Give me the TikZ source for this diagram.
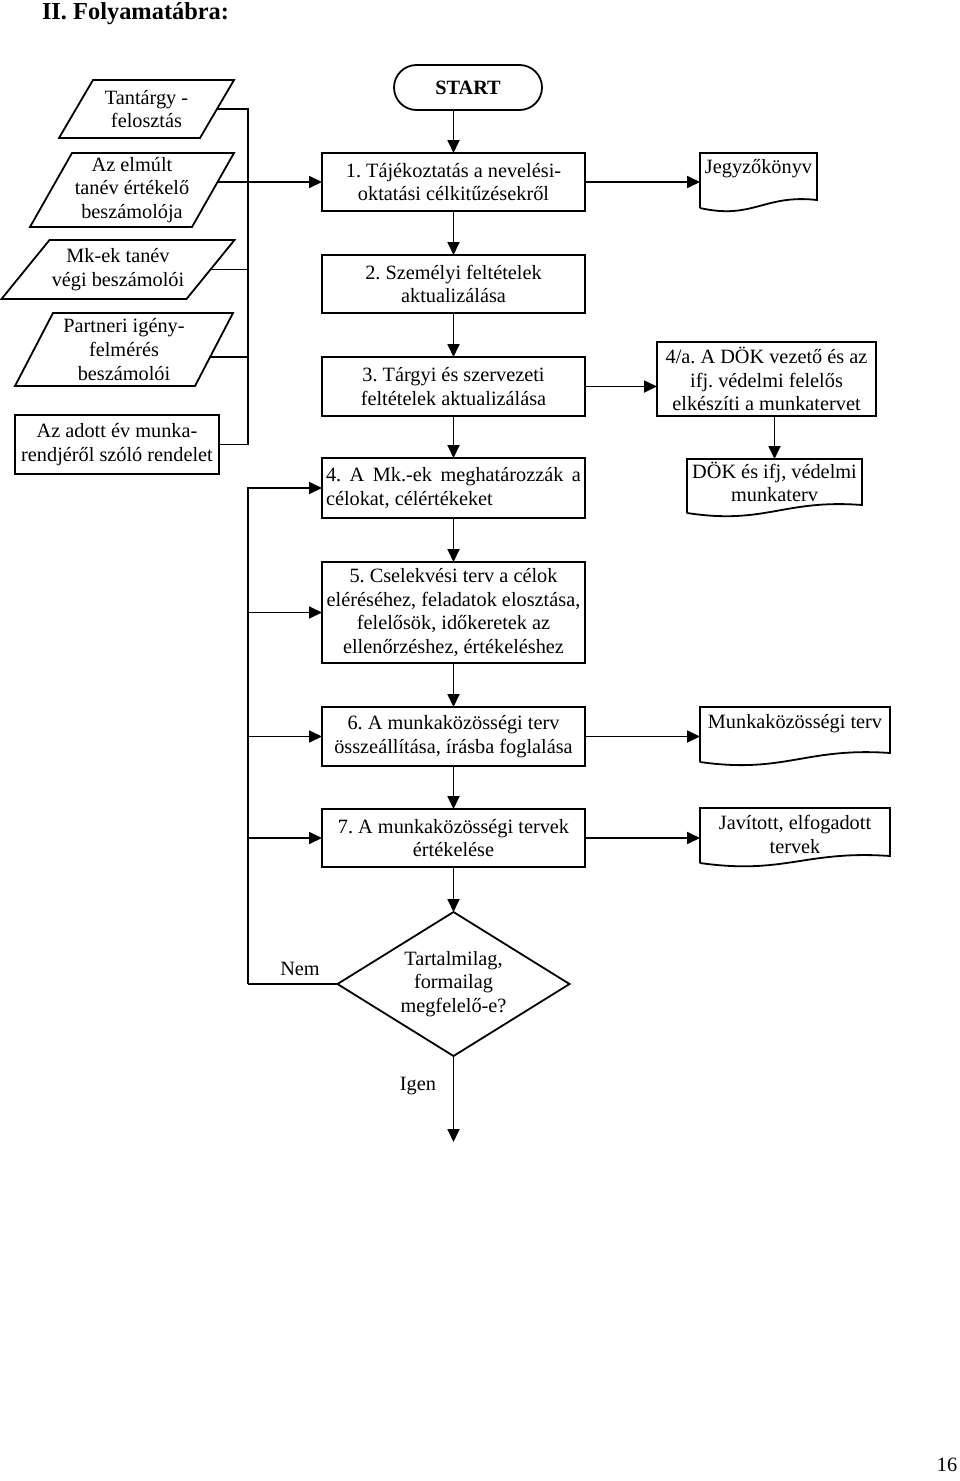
\documentclass[tikz,border=0pt]{standalone}
\usepackage{fontspec}
\setmainfont{Liberation Serif}
\usetikzlibrary{arrows.meta,shapes.geometric,calc}
\begin{document}
\begin{tikzpicture}[x=1pt,y=-1pt,
  every node/.style={font=\fontsize{20.3}{23.7}\selectfont\frenchspacing, inner sep=0pt, outer sep=0pt, align=center},
  ln/.style={line width=1.8pt},
  arr/.style={line width=1.8pt, -{Triangle[length=13pt,width=12pt]}},
  box/.style={draw, line width=1.8pt, minimum width=263pt},
  frame/.style={draw, line width=1.8pt}]
\useasboundingbox (0,0) rectangle (960,1481);

% title
\node[font=\fontsize{24.4}{28}\selectfont\bfseries, anchor=base west] (title) at (42,19) {II. Folyamatábra:};

% left inputs
\node[minimum width=141pt, minimum height=58pt] (p1) at (146.5,109) {Tantárgy -\\felosztás};
\node[minimum width=162pt, minimum height=74pt] (p2) at (132,190) {Az elmúlt\\tanév értékelő\\beszámolója};
\node[minimum width=185pt, minimum height=59pt] (p3) at (118,269.5) {Mk-ek tanév\\végi beszámolói};
\node[minimum width=180pt, minimum height=73pt] (p4) at (124,349.5) {Partneri igény-\\felmérés\\beszámolói};
\node[frame, minimum width=204pt, minimum height=59pt] (R) at (117,444.5) {Az adott év munka-\\rendjéről szóló rendelet};

\draw[ln] ([xshift=17pt]p1.north west) -- ([xshift=17pt]p1.north east) -- ([xshift=-17pt]p1.south east) -- ([xshift=-17pt]p1.south west) -- cycle;
\draw[ln] ([xshift=21pt]p2.north west) -- ([xshift=21pt]p2.north east) -- ([xshift=-21pt]p2.south east) -- ([xshift=-21pt]p2.south west) -- cycle;
\draw[ln] ([xshift=24pt]p3.north west) -- ([xshift=24pt]p3.north east) -- ([xshift=-24pt]p3.south east) -- ([xshift=-24pt]p3.south west) -- cycle;
\draw[ln] ([xshift=19pt]p4.north west) -- ([xshift=19pt]p4.north east) -- ([xshift=-19pt]p4.south east) -- ([xshift=-19pt]p4.south west) -- cycle;

% main column
\node[frame, rounded corners=22.5pt, minimum width=148pt, minimum height=45pt, font=\fontsize{20.3}{23.7}\selectfont\bfseries] (st) at (468,87.5) {START};
\node[box, minimum height=58pt] (b1) at (453.5,182) {1. Tájékoztatás a nevelési-\\oktatási célkitűzésekről};
\node[box, minimum height=58pt] (b2) at (453.5,284) {2. Személyi feltételek\\aktualizálása};
\node[box, minimum height=59pt] (b3) at (453.5,386.5) {3. Tárgyi és szervezeti\\feltételek aktualizálása};
\node[box, minimum height=60pt, text width=255pt, align=justify, inner xsep=4pt] (b4) at (453.5,488) {\hyphenpenalty=10000 4. A Mk.-ek meghatározzák a\linebreak célokat, célértékeket};
\node[box, minimum height=101pt] (b5) at (453.5,612.5) {5. Cselekvési terv a célok\\eléréséhez, feladatok elosztása,\\felelősök, időkeretek az\\ellenőrzéshez, értékeléshez};
\node[box, minimum height=59pt] (b6) at (453.5,736.5) {6. A munkaközösségi terv\\összeállítása, írásba foglalása};
\node[box, minimum height=58pt] (b7) at (453.5,838) {7. A munkaközösségi tervek\\értékelése};
\node[diamond, draw, line width=1.8pt, aspect=1.61, minimum width=232pt, minimum height=144pt] (D) at (453.5,984) {Tartalmilag,\\formailag\\megfelelő-e?};
\node[anchor=base] (nem) at (300,975) {Nem};
\node[anchor=base] (igen) at (418,1090) {Igen};
\coordinate (end) at (453.5,1142);

% right column
\node[frame, minimum width=219pt, minimum height=74pt] (A) at (766.5,379) {4/a. A DÖK vezető és az\\ifj. védelmi felelős\\elkészíti a munkatervet};
\node[minimum width=117pt, minimum height=55pt] (J) at (758.5,180.5) {};
\node[anchor=base] (Jt) at (758.5,173) {Jegyzőkönyv};
\node[minimum width=175pt, minimum height=54pt] (Dd) at (774.5,486) {};
\node (Ddt) at (774.5,482) {DÖK és ifj, védelmi\\munkaterv};
\node[minimum width=190pt, minimum height=55pt] (Mk) at (795,734.5) {};
\node[anchor=base] (Mkt) at (795,728) {Munkaközösségi terv};
\node[minimum width=190pt, minimum height=55pt] (Jv) at (795,835.5) {};
\node (Jvt) at (795,834.5) {Javított, elfogadott\\tervek};

\draw[ln] (J.south west) -- (J.north west) -- (J.north east) -- ([yshift=8pt]J.south east) .. controls +(-53,-6) and +(53,12) .. (J.south west);
\draw[ln] (Dd.south west) -- (Dd.north west) -- (Dd.north east) -- ([yshift=8pt]Dd.south east) .. controls +(-79,-6) and +(79,12) .. (Dd.south west);
\draw[ln] (Mk.south west) -- (Mk.north west) -- (Mk.north east) -- ([yshift=9pt]Mk.south east) .. controls +(-85,-6) and +(85,12) .. (Mk.south west);
\draw[ln] (Jv.south west) -- (Jv.north west) -- (Jv.north east) -- ([yshift=7pt]Jv.south east) .. controls +(-85,-6) and +(85,12) .. (Jv.south west);

% page number
\node (pg) at (947,1465) {16};

% left bus
\coordinate (bx) at (248,0);
\draw[ln] (p1.east) -- (p1.east -| bx) -- (R.east -| bx) -- (R.east);
\draw[ln] (p3.east) -- (p3.east -| bx);
\coordinate (p4c) at ($(p4.east)+(-4,7.5)$);
\draw[ln] (p4c) -- (p4c -| bx);
\coordinate (p2c) at ($(p2.east |- b1.west)+(4.5,0)$);
\draw[arr] (p2c) -- (b1.west);

% main flow
\draw[arr] (st.south -| b1.north) -- (b1.north);
\draw[arr] (b1.south) -- (b2.north);
\draw[arr] (b2.south) -- (b3.north);
\draw[arr] (b3.south) -- (b4.north);
\draw[arr] (b4.south) -- (b5.north);
\draw[arr] (b5.south) -- (b6.north);
\draw[arr] (b6.south) -- (b7.north);
\draw[arr] (b7.south) -- (D.north);
\draw[arr] (D.south) -- (end);

% feedback loop
\coordinate (nb) at (248,984);
\draw[ln] (D.west) -- (nb);
\draw[arr] (nb) |- (b4.west);
\draw[arr] (nb |- b5.west) -- (b5.west);
\draw[arr] (nb |- b6.west) -- (b6.west);
\draw[arr] (nb |- b7.west) -- (b7.west);

% outputs
\draw[arr] (b1.east) -- (b1.east -| J.west);
\draw[arr] (b3.east) -- (b3.east -| A.west);
\draw[arr] (A.south -| Dd.north) -- (Dd.north);
\draw[arr] (b6.east) -- (b6.east -| Mk.west);
\draw[arr] (b7.east) -- (b7.east -| Jv.west);
\end{tikzpicture}
\end{document}
